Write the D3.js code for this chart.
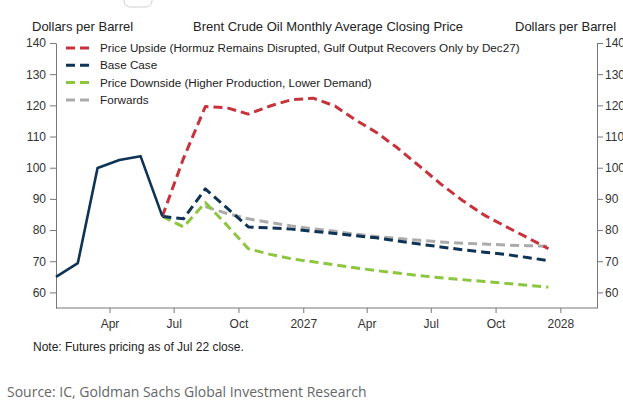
<!DOCTYPE html>
<html lang="en">
<head>
<meta charset="UTF-8">
<title>Brent Crude Oil Monthly Average Closing Price</title>
<style>
    body { margin: 0; background: #fff; }
    svg { display: block; }
    .chart-text { font-family: "Liberation Sans", Arial, sans-serif; fill: #222; }
    .axis path, .axis line { stroke: #777; }
    .axis text { font-family: "Liberation Sans", Arial, sans-serif; font-size: 12px; fill: #333; }
</style>
<script src="https://cdnjs.cloudflare.com/ajax/libs/d3/7.8.5/d3.min.js"></script>
</head>
<body>
<script>
// monthly average closing price, dollars per barrel
const histMonths = ["2026-01", "2026-02", "2026-03", "2026-04", "2026-05", "2026-06"];
const histValues = [65.0, 69.4, 99.9, 102.5, 103.7, 84.4];

const fcMonths = ["2026-06", "2026-07", "2026-08", "2026-09", "2026-10", "2026-11", "2026-12",
    "2027-01", "2027-02", "2027-03", "2027-04", "2027-05", "2027-06", "2027-07", "2027-08",
    "2027-09", "2027-10", "2027-11", "2027-12"];
const upsideValues = [84.4, 103.0, 119.6, 119.2, 117.2, 119.8, 121.8, 122.3, 119.8, 115.5, 111.3,
    106.3, 100.5, 94.8, 89.5, 84.8, 81.2, 77.6, 74.0];
const baseValues = [84.4, 83.6, 93.2, 87.0, 81.0, 80.7, 80.3, 79.6, 78.9, 78.2, 77.5, 76.5,
    75.5, 74.6, 73.7, 72.9, 72.2, 71.2, 70.2];
const downsideValues = [84.4, 81.0, 88.8, 81.5, 74.0, 72.2, 70.8, 69.8, 68.8, 67.9, 67.0, 66.2,
    65.4, 64.7, 64.1, 63.5, 62.9, 62.3, 61.7];

const fwdMonths = ["2026-08", "2026-09", "2026-10", "2026-11", "2026-12", "2027-01", "2027-02",
    "2027-03", "2027-04", "2027-05", "2027-06", "2027-07", "2027-08", "2027-09", "2027-10",
    "2027-11", "2027-12"];
const fwdValues = [87.5, 85.3, 83.6, 82.4, 81.3, 80.4, 79.6, 78.7, 77.9, 77.3, 76.7, 76.2,
    75.8, 75.5, 75.2, 75.0, 74.8];

const legendLabels = [
    "Price Upside (Hormuz Remains Disrupted, Gulf Output Recovers Only by Dec27)",
    "Base Case",
    "Price Downside (Higher Production, Lower Demand)",
    "Forwards"
];
const yTicks = [60, 70, 80, 90, 100, 110, 120, 130, 140];

const W = 623, H = 413;
const plot = { left: 56, right: 597, top: 43, bottom: 308 };

const svg = d3.select("body").append("svg")
    .attr("width", W)
    .attr("height", H);

// monthly averages sit mid month
const parseMonth = d3.timeParse("%Y-%m-%d");
const toDate = m => parseMonth(m + "-15");
const pairs = (months, vals) => months.map((m, i) => ({ date: toDate(m), value: vals[i] }));

const x = d3.scaleTime()
    .domain([parseMonth("2026-01-15"), parseMonth("2028-02-22")])
    .range([plot.left, plot.right]);

const y = d3.scaleLinear()
    .domain([55, 140])
    .range([plot.bottom, plot.top]);

// little widget border peeking at the top
svg.append("rect")
    .attr("x", 124).attr("y", -12)
    .attr("width", 28).attr("height", 19)
    .attr("rx", 6)
    .attr("fill", "#fff")
    .attr("stroke", "#cfcfcf");

// axes
const fmtTick = d => d.getMonth() === 0 ? d3.timeFormat("%Y")(d) : d3.timeFormat("%b")(d);

svg.append("g")
    .attr("class", "axis")
    .attr("transform", `translate(0,${plot.bottom})`)
    .call(d3.axisBottom(x).ticks(d3.timeMonth.every(3)).tickFormat(fmtTick).tickSize(5).tickSizeOuter(0).tickPadding(6))
    .call(g => g.select(".domain").attr("d", `M${plot.left},0H${plot.right}`));

svg.append("g")
    .attr("class", "axis")
    .attr("transform", `translate(${plot.left},0)`)
    .call(d3.axisLeft(y).tickValues(yTicks).tickSize(6).tickSizeOuter(0).tickPadding(4));

svg.append("g")
    .attr("class", "axis")
    .attr("transform", `translate(${plot.right},0)`)
    .call(d3.axisRight(y).tickValues(yTicks).tickSize(6).tickSizeOuter(0).tickPadding(2));

svg.selectAll(".axis .domain").attr("stroke", "#777");

// header texts
svg.append("text").attr("class", "chart-text")
    .attr("x", 32).attr("y", 31)
    .style("font-size", "13px")
    .text("Dollars per Barrel");

svg.append("text").attr("class", "chart-text")
    .attr("x", 328).attr("y", 31)
    .attr("text-anchor", "middle")
    .style("font-size", "13px")
    .text("Brent Crude Oil Monthly Average Closing Price");

svg.append("text").attr("class", "chart-text")
    .attr("x", 515).attr("y", 31)
    .style("font-size", "13px")
    .text("Dollars per Barrel");

// series
const line = d3.line().x(d => x(d.date)).y(d => y(d.value));

const series = [
    { data: pairs(fwdMonths, fwdValues), color: "#ababab", dash: "9,5", width: 3 },
    { data: pairs(fcMonths, downsideValues), color: "#8cc63f", dash: "9,5", width: 3 },
    { data: pairs(fcMonths, baseValues), color: "#0e3356", dash: "9,5", width: 3 },
    { data: pairs(fcMonths, upsideValues), color: "#c8323b", dash: "9,5", width: 3 },
    { data: pairs(histMonths, histValues), color: "#0e3356", dash: null, width: 2.6 }
];

svg.selectAll(".series")
    .data(series)
    .enter()
    .append("path")
    .attr("class", "series")
    .attr("d", d => line(d.data))
    .attr("fill", "none")
    .attr("stroke", d => d.color)
    .attr("stroke-width", d => d.width)
    .attr("stroke-dasharray", d => d.dash)
    .attr("stroke-linejoin", "round");

// legend
const legendColors = ["#c8323b", "#0e3356", "#8cc63f", "#ababab"];
const legend = svg.append("g").attr("transform", "translate(66,48)");

const items = legend.selectAll("g")
    .data(legendLabels)
    .enter()
    .append("g")
    .attr("transform", (d, i) => `translate(0,${i * 17.3})`);

items.append("line")
    .attr("x1", 0).attr("x2", 26)
    .attr("stroke", (d, i) => legendColors[i])
    .attr("stroke-width", 3)
    .attr("stroke-dasharray", "9,5");

items.append("text")
    .attr("class", "chart-text")
    .attr("x", 34).attr("y", 4)
    .style("font-size", "11.7px")
    .text(d => d);

// footnotes
svg.append("text").attr("class", "chart-text")
    .attr("x", 33).attr("y", 351)
    .style("font-size", "12px")
    .text("Note: Futures pricing as of Jul 22 close.");

svg.append("text")
    .attr("x", 7).attr("y", 397)
    .style("font-family", "'Open Sans', sans-serif")
    .style("font-size", "14px")
    .attr("fill", "#666")
    .text("Source: IC, Goldman Sachs Global Investment Research");
</script>
</body>
</html>
